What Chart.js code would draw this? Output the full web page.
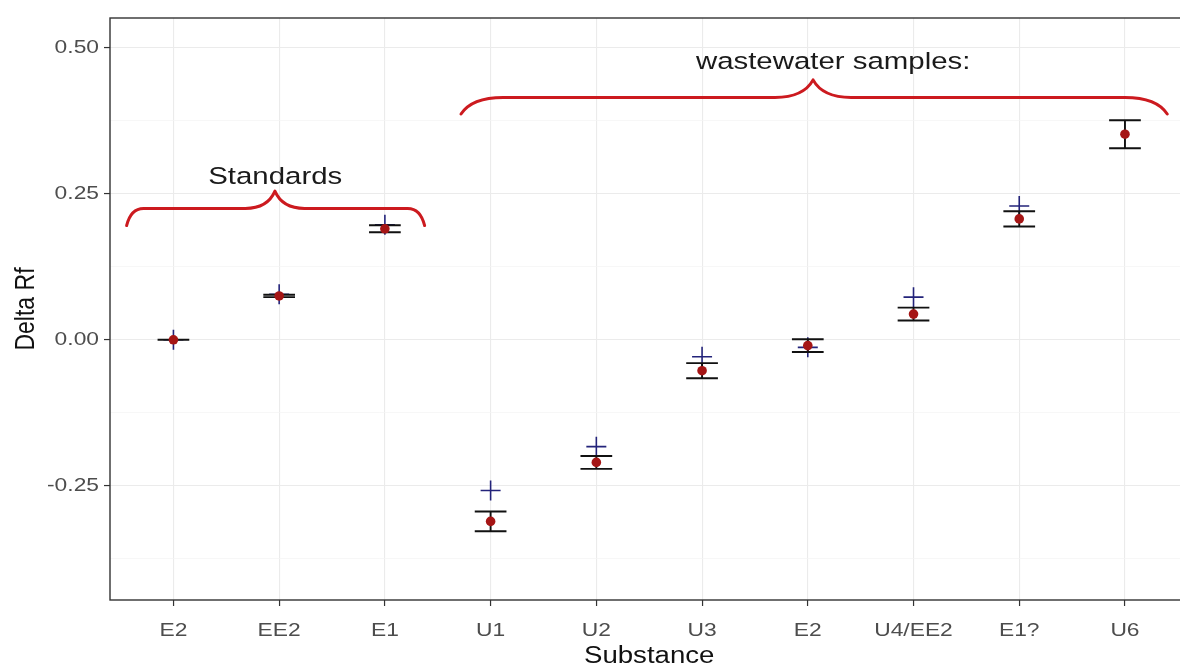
<!DOCTYPE html>
<html>
<head>
<meta charset="utf-8">
<title>Delta Rf by substance</title>
<script src="https://cdn.jsdelivr.net/npm/chart.js@4.4.1/dist/chart.umd.min.js"></script>
<style>
  html, body { margin: 0; padding: 0; background: #ffffff; overflow: hidden; }
  #wrap { position: relative; width: 1200px; height: 668px; }
</style>
</head>
<body>
<div id="wrap"><canvas id="chart"></canvas></div>
<script>
// Substances along the x axis
const categories = ['E2', 'EE2', 'E1', 'U1', 'U2', 'U3', 'E2', 'U4/EE2', 'E1?', 'U6'];
// Measured Delta Rf (mean) and its standard deviation
const meanRf = [0.000, 0.075, 0.190, -0.311, -0.210, -0.053, -0.010, 0.044, 0.207, 0.352];
const sdRf   = [0.000, 0.002, 0.006,  0.017,  0.011,  0.013,  0.011, 0.011, 0.013, 0.024];
// Expected Delta Rf (plus markers); none for U6
const expectedRf = [0.000, 0.078, 0.197, -0.258, -0.183, -0.029, -0.013, 0.073, 0.229, null];
// Y axis: labelled major ticks and unlabelled minor grid lines
const majorTicks = [-0.25, 0.00, 0.25, 0.50];
const minorTicks = [-0.375, -0.125, 0.125, 0.375];
const yLimits = [-0.4456, 0.551];
const xLimits = [-0.6, 9.6];

// Group braces: [left, tip, right] in category units, [end, base, tip] in Delta Rf
const braceStandards  = { x: [-0.443, 0.96, 2.376], y: [0.1956, 0.225, 0.2546], endRun: 0.16, tipRun: 0.28 };
const braceWastewater = { x: [2.72, 6.05, 9.40],   y: [0.3866, 0.415, 0.445],  endRun: 0.40, tipRun: 0.36 };
const groupLabels = [
  { text: 'Standards', x: 0.963, y: 0.279 },
  { text: 'wastewater samples:', x: 6.24, y: 0.4745 }
];

const FONT = "'Liberation Sans', Arial, sans-serif";
// All text is drawn a little wider than the font's natural proportions
const TEXT_STRETCH_X = 1.2;

const meanPoints = meanRf.map((v, i) => ({ x: i, y: v }));
const expectedPoints = expectedRf.map((v, i) => ({ x: i, y: v })).filter(p => p.y !== null);

// Widen every glyph run horizontally (in screen space) about its anchor point
const textStretch = {
  id: 'textStretch',
  beforeInit(chart) {
    const ctx = chart.ctx;
    const base = ctx.fillText.bind(ctx);
    ctx.fillText = function (text, x, y, maxWidth) {
      const m = ctx.getTransform();
      const p = m.transformPoint(new DOMPoint(x, y));
      ctx.save();
      ctx.setTransform(
        new DOMMatrix().translate(p.x, p.y).scale(TEXT_STRETCH_X, 1).translate(-p.x, -p.y).multiply(m)
      );
      if (maxWidth === undefined || maxWidth === null || !isFinite(maxWidth)) base(text, x, y);
      else base(text, x, y, maxWidth / TEXT_STRETCH_X);
      ctx.restore();
    };
  }
};

// Panel border drawn all round the plotting area
const panelBorder = {
  id: 'panelBorder',
  beforeDatasetsDraw(chart) {
    const { ctx, chartArea: a } = chart;
    ctx.save();
    ctx.strokeStyle = '#333333';
    ctx.lineWidth = 1.4;
    ctx.strokeRect(a.left, a.top, a.right - a.left, a.bottom - a.top);
    ctx.restore();
  }
};

// Error bars (mean +/- sd) drawn just below the mean points
const errorBars = {
  id: 'errorBars',
  beforeDatasetDraw(chart, args) {
    if (args.index !== 0) return;
    const { ctx, scales: { x, y } } = chart;
    const capHalf = 0.15;
    ctx.save();
    ctx.strokeStyle = '#111111';
    ctx.lineWidth = 1.9;
    meanRf.forEach((m, i) => {
      const lo = y.getPixelForValue(m - sdRf[i]);
      const hi = y.getPixelForValue(m + sdRf[i]);
      const xc = x.getPixelForValue(i);
      const xl = x.getPixelForValue(i - capHalf);
      const xr = x.getPixelForValue(i + capHalf);
      ctx.beginPath();
      ctx.moveTo(xc, lo); ctx.lineTo(xc, hi);
      ctx.moveTo(xl, lo); ctx.lineTo(xr, lo);
      ctx.moveTo(xl, hi); ctx.lineTo(xr, hi);
      ctx.stroke();
    });
    ctx.restore();
  }
};

// Curly braces and their labels above the two groups
const groupBraces = {
  id: 'groupBraces',
  afterDraw(chart) {
    const { ctx, scales: { x, y } } = chart;
    const px = v => x.getPixelForValue(v);
    const py = v => y.getPixelForValue(v);
    const drawBrace = b => {
      const [L, T, R] = b.x;
      const [E, B, P] = b.y;
      const e = b.endRun, t = b.tipRun;
      ctx.beginPath();
      ctx.moveTo(px(L), py(E));
      ctx.quadraticCurveTo(px(L + e * 0.25), py(B), px(L + e), py(B));
      ctx.lineTo(px(T - t), py(B));
      ctx.quadraticCurveTo(px(T - t * 0.25), py(B), px(T), py(P));
      ctx.quadraticCurveTo(px(T + t * 0.25), py(B), px(T + t), py(B));
      ctx.lineTo(px(R - e), py(B));
      ctx.quadraticCurveTo(px(R - e * 0.25), py(B), px(R), py(E));
      ctx.stroke();
    };
    ctx.save();
    ctx.strokeStyle = '#cc1a1f';
    ctx.lineWidth = 3;
    ctx.lineJoin = 'round';
    ctx.lineCap = 'round';
    drawBrace(braceStandards);
    drawBrace(braceWastewater);
    ctx.fillStyle = '#1a1a1a';
    ctx.font = '24.5px ' + FONT;
    ctx.textAlign = 'center';
    ctx.textBaseline = 'middle';
    groupLabels.forEach(l => ctx.fillText(l.text, px(l.x), py(l.y)));
    ctx.restore();
  }
};

new Chart(document.getElementById('chart'), {
  type: 'scatter',
  data: {
    datasets: [
      {
        label: 'mean',
        data: meanPoints,
        pointStyle: 'circle',
        pointRadius: 4.8,
        pointBackgroundColor: '#a51515',
        pointBorderWidth: 0,
        pointHoverRadius: 4.8
      },
      {
        label: 'expected',
        data: expectedPoints,
        pointStyle: 'cross',
        pointRadius: 10,
        pointBorderColor: '#23237a',
        pointBorderWidth: 1.6,
        pointHoverRadius: 10
      }
    ]
  },
  options: {
    responsive: true,
    maintainAspectRatio: false,
    animation: false,
    events: [],
    layout: { padding: { top: 18, right: 7, left: 0, bottom: 0 } },
    plugins: {
      legend: { display: false },
      tooltip: { enabled: false }
    },
    scales: {
      x: {
        type: 'linear',
        min: xLimits[0],
        max: xLimits[1],
        afterBuildTicks: s => { s.ticks = categories.map((_, i) => ({ value: i })); },
        afterFit: s => { s.height = 68; },
        border: { display: false },
        grid: {
          color: '#ebebeb',
          lineWidth: 1.1,
          tickColor: '#333333',
          tickLength: 6,
          tickWidth: 1.2
        },
        ticks: {
          autoSkip: false,
          maxRotation: 0,
          padding: 13,
          color: '#4d4d4d',
          font: { family: FONT, size: 19 },
          callback: v => categories[v]
        },
        title: {
          display: true,
          text: 'Substance',
          color: '#111111',
          font: { family: FONT, size: 23, lineHeight: 1.0 },
          padding: { top: 0, bottom: 0 }
        }
      },
      y: {
        min: yLimits[0],
        max: yLimits[1],
        afterBuildTicks: s => {
          s.ticks = majorTicks.concat(minorTicks).sort((a, b) => a - b).map(v => ({ value: v }));
        },
        afterFit: s => { s.width = 110; },
        border: { display: false },
        grid: {
          color: c => majorTicks.includes(c.tick.value) ? '#ebebeb' : '#f3f3f3',
          lineWidth: c => majorTicks.includes(c.tick.value) ? 1.1 : 0.7,
          tickColor: c => majorTicks.includes(c.tick.value) ? '#333333' : 'rgba(0,0,0,0)',
          tickLength: 6,
          tickWidth: 1.2
        },
        ticks: {
          padding: 5,
          color: '#4d4d4d',
          font: { family: FONT, size: 19 },
          callback: v => majorTicks.includes(v) ? v.toFixed(2) : ''
        },
        title: {
          display: true,
          text: 'Delta Rf',
          color: '#111111',
          font: { family: FONT, size: 23 },
          padding: { top: 13, bottom: 0 }
        }
      }
    }
  },
  plugins: [textStretch, panelBorder, errorBars, groupBraces]
});
</script>
</body>
</html>
